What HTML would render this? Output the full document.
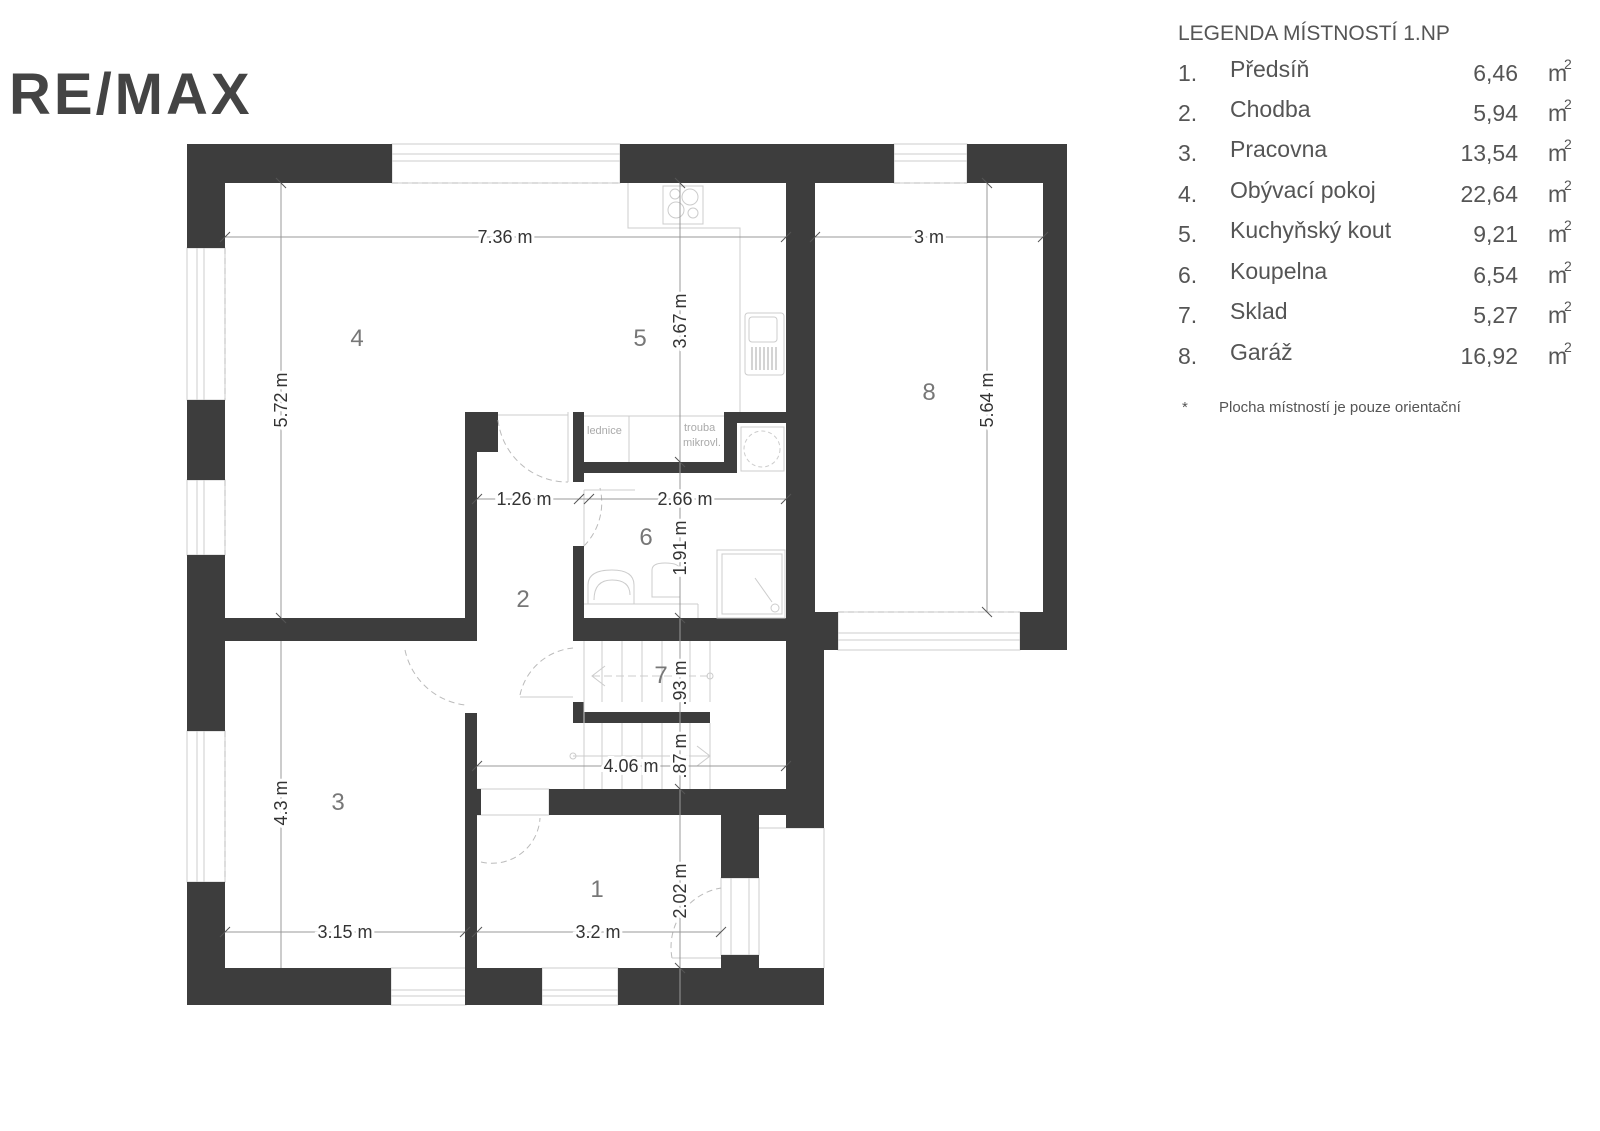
<!DOCTYPE html>
<html><head><meta charset="utf-8"><style>
html,body{margin:0;padding:0;background:#fff;width:1600px;height:1131px;overflow:hidden}
svg{display:block}
.w{fill:#3d3d3d}
.t{stroke:#ccc;stroke-width:1;fill:none}
.d{stroke:#999;stroke-width:1;fill:none}
.dash{stroke:#bbb;stroke-width:1;fill:none;stroke-dasharray:6 4}
.dim{font-family:"Liberation Sans",sans-serif;font-size:18px;fill:#333}
.rn{font-family:"Liberation Sans",sans-serif;font-size:24px;fill:#777;font-weight:300}
.lg{font-family:"Liberation Sans Narrow","Liberation Sans",sans-serif;fill:#555;font-size:22px}
</style></head><body>
<svg width="1600" height="1131" viewBox="0 0 1600 1131" xmlns="http://www.w3.org/2000/svg">
<text x="9" y="114" font-family="Liberation Sans,sans-serif" font-weight="bold" font-size="58" fill="#444" letter-spacing="3">RE/MAX</text>

<g class="t">
<rect x="392" y="144" width="228" height="39"/><line x1="392" y1="154" x2="620" y2="154"/><line x1="392" y1="161" x2="620" y2="161"/>
<rect x="894" y="144" width="73" height="39"/><line x1="894" y1="154" x2="967" y2="154"/><line x1="894" y1="161" x2="967" y2="161"/>
<rect x="187" y="248" width="38" height="152"/><line x1="197" y1="248" x2="197" y2="400"/><line x1="204" y1="248" x2="204" y2="400"/>
<rect x="187" y="480" width="38" height="75"/><line x1="197" y1="480" x2="197" y2="555"/><line x1="204" y1="480" x2="204" y2="555"/>
<rect x="187" y="731" width="38" height="151"/><line x1="197" y1="731" x2="197" y2="882"/><line x1="204" y1="731" x2="204" y2="882"/>
<rect x="391" y="968" width="75" height="37"/><line x1="391" y1="990" x2="466" y2="990"/><line x1="391" y1="996" x2="466" y2="996"/>
<rect x="542" y="968" width="76" height="37"/><line x1="542" y1="990" x2="618" y2="990"/><line x1="542" y1="996" x2="618" y2="996"/>
<rect x="838" y="612" width="182" height="38"/><line x1="838" y1="633" x2="1020" y2="633"/><line x1="838" y1="640" x2="1020" y2="640"/>
<rect x="721" y="878" width="38" height="77"/><line x1="731" y1="878" x2="731" y2="955"/><line x1="749" y1="878" x2="749" y2="955"/>
<line x1="759" y1="828" x2="824" y2="828"/><line x1="824" y1="828" x2="824" y2="968"/>
<rect x="477" y="789" width="72" height="26"/>
</g>
<g class="dash">
<line x1="392" y1="183" x2="620" y2="183"/><line x1="894" y1="183" x2="967" y2="183"/>
<line x1="225" y1="248" x2="225" y2="400"/><line x1="225" y1="480" x2="225" y2="555"/><line x1="225" y1="731" x2="225" y2="882"/>
<line x1="838" y1="612" x2="1020" y2="612"/>
</g>

<g class="w">
<path d="M187 144H392V183H225V248H187Z"/>
<rect x="620" y="144" width="274" height="39"/>
<rect x="786" y="183" width="29" height="645"/>
<rect x="815" y="612" width="23" height="38"/>
<rect x="815" y="650" width="9" height="178"/>
<rect x="549" y="789" width="237" height="26"/>
<rect x="721" y="815" width="38" height="63"/>
<rect x="573" y="618" width="213" height="23"/>
<rect x="573" y="546" width="11" height="72"/>
<rect x="573" y="412" width="11" height="70"/>
<rect x="584" y="462" width="153" height="11"/>
<rect x="724" y="412" width="13" height="61"/>
<rect x="737" y="412" width="49" height="11"/>
<path d="M967 144H1067V650H1020V612H1043V183H967Z"/>
<rect x="187" y="400" width="38" height="80"/>
<path d="M187 555H225V618H465V412H498V452H477V641H225V731H187Z"/>
<path d="M187 882H225V968H391V1005H187Z"/>
<path d="M465 713H477V789H481V815H477V968H542V1005H465Z"/>
<path d="M618 968H721V955H759V968H824V1005H618Z"/>
<path d="M573 702H584V712H710V723H573Z"/>
</g>

<g class="dash">
<path d="M498 420 A70 70 0 0 0 568 482"/>
<path d="M584 546 A62 62 0 0 0 600 488"/>
<path d="M405 650 A70 70 0 0 0 465 705"/>
<path d="M520 695 A60 60 0 0 1 573 648"/>
<path d="M481 862 A48 48 0 0 0 540 818"/>
<path d="M672 958 A60 60 0 0 1 721 888"/>
</g>
<g class="t">
<line x1="498" y1="415" x2="568" y2="415"/><line x1="568" y1="412" x2="568" y2="482"/>
<line x1="584" y1="490" x2="635" y2="490"/><line x1="584" y1="490" x2="584" y2="546"/>
<line x1="520" y1="697" x2="573" y2="697"/>
<line x1="672" y1="958" x2="721" y2="958"/>
</g>

<g class="t">
<path d="M628 183V228H740V412"/>
<rect x="663" y="186" width="40" height="38"/>
<circle cx="675" cy="194" r="5"/><circle cx="690" cy="197" r="8"/><circle cx="676" cy="210" r="8"/><circle cx="693" cy="213" r="5"/>
<rect x="745" y="313" width="39" height="62" rx="3"/><rect x="749" y="317" width="28" height="25" rx="3"/>
<g stroke="#aaa"><line x1="752" y1="347" x2="752" y2="370"/><line x1="756" y1="347" x2="756" y2="370"/><line x1="760" y1="347" x2="760" y2="370"/><line x1="764" y1="347" x2="764" y2="370"/><line x1="768" y1="347" x2="768" y2="370"/><line x1="772" y1="347" x2="772" y2="370"/><line x1="776" y1="347" x2="776" y2="370"/></g>
<line x1="584" y1="416" x2="724" y2="416"/><line x1="629" y1="416" x2="629" y2="462"/>
<rect x="741" y="427" width="43" height="44"/><circle cx="762" cy="449" r="18" stroke-dasharray="4 3"/>
</g>
<text x="587" y="434" font-family="Liberation Sans,sans-serif" font-size="11" fill="#aaa">lednice</text>
<text x="684" y="431" font-family="Liberation Sans,sans-serif" font-size="11" fill="#aaa">trouba</text>
<text x="683" y="446" font-family="Liberation Sans,sans-serif" font-size="11" fill="#aaa">mikrovl.</text>

<g class="t">
<rect x="717" y="550" width="68" height="68"/><rect x="722" y="554" width="60" height="60"/>
<line x1="755" y1="578" x2="772" y2="602"/><circle cx="775" cy="608" r="4"/>
<path d="M588 604V585Q588 570 612 570Q634 570 634 585V604"/>
<path d="M594 600Q594 580 612 580Q630 580 630 595"/>
<path d="M652 597V570Q652 563 665 563Q680 563 680 570V597Z"/>
<line x1="584" y1="604" x2="698" y2="604"/><line x1="698" y1="604" x2="698" y2="618"/>
</g>

<g class="t">
<line x1="584" y1="641" x2="584" y2="789"/>
<line x1="602" y1="641" x2="602" y2="702"/><line x1="622" y1="641" x2="622" y2="702"/><line x1="642" y1="641" x2="642" y2="702"/><line x1="662" y1="641" x2="662" y2="702"/><line x1="690" y1="641" x2="690" y2="702"/><line x1="710" y1="641" x2="710" y2="702"/>
<line x1="602" y1="723" x2="602" y2="789"/><line x1="622" y1="723" x2="622" y2="789"/><line x1="642" y1="723" x2="642" y2="789"/><line x1="662" y1="723" x2="662" y2="789"/><line x1="690" y1="723" x2="690" y2="789"/><line x1="710" y1="723" x2="710" y2="789"/>
<line x1="592" y1="676" x2="710" y2="676" stroke-dasharray="8 4"/><path d="M605 666L592 676L605 686"/><circle cx="710" cy="676" r="3"/>
<line x1="573" y1="756" x2="710" y2="756"/><path d="M697 746L710 756L697 766"/><circle cx="573" cy="756" r="3"/>
</g>

<g class="d">
<line x1="225" y1="237" x2="786" y2="237"/><line x1="815" y1="237" x2="1043" y2="237"/>
<line x1="281" y1="183" x2="281" y2="618"/><line x1="680" y1="183" x2="680" y2="1005"/>
<line x1="987" y1="183" x2="987" y2="612"/>
<line x1="477" y1="499" x2="786" y2="499"/>
<line x1="477" y1="766" x2="786" y2="766"/>
<line x1="281" y1="641" x2="281" y2="968"/>
<line x1="225" y1="932" x2="465" y2="932"/><line x1="477" y1="932" x2="721" y2="932"/>
</g>
<g stroke="#555" stroke-width="1">
<line x1="220" y1="242" x2="230" y2="232"/><line x1="781" y1="242" x2="791" y2="232"/><line x1="810" y1="242" x2="820" y2="232"/><line x1="1038" y1="242" x2="1048" y2="232"/>
<line x1="276" y1="178" x2="286" y2="188"/><line x1="276" y1="613" x2="286" y2="623"/><line x1="982" y1="178" x2="992" y2="188"/><line x1="982" y1="607" x2="992" y2="617"/>
<line x1="472" y1="504" x2="482" y2="494"/><line x1="574" y1="504" x2="584" y2="494"/><line x1="584" y1="504" x2="594" y2="494"/><line x1="781" y1="504" x2="791" y2="494"/>
<line x1="472" y1="771" x2="482" y2="761"/><line x1="781" y1="771" x2="791" y2="761"/>
<line x1="220" y1="937" x2="230" y2="927"/><line x1="460" y1="937" x2="470" y2="927"/><line x1="472" y1="937" x2="482" y2="927"/><line x1="716" y1="937" x2="726" y2="927"/>
<line x1="675" y1="178" x2="685" y2="188"/><line x1="675" y1="457" x2="685" y2="467"/><line x1="675" y1="613" x2="685" y2="623"/><line x1="675" y1="784" x2="685" y2="794"/><line x1="675" y1="963" x2="685" y2="973"/>
</g>
<g class="dim" text-anchor="middle" stroke="#fff" stroke-width="6" style="paint-order:stroke">
<text x="505" y="243">7.36 m</text>
<text x="929" y="243">3 m</text>
<text x="524" y="505">1.26 m</text>
<text x="685" y="505">2.66 m</text>
<text x="631" y="772">4.06 m</text>
<text x="345" y="938">3.15 m</text>
<text x="598" y="938">3.2 m</text>
<text transform="translate(287,400) rotate(-90)">5.72 m</text>
<text transform="translate(686,321) rotate(-90)">3.67 m</text>
<text transform="translate(993,400) rotate(-90)">5.64 m</text>
<text transform="translate(686,548) rotate(-90)">1.91 m</text>
<text transform="translate(686,683) rotate(-90)">.93 m</text>
<text transform="translate(686,756) rotate(-90)">.87 m</text>
<text transform="translate(287,803) rotate(-90)">4.3 m</text>
<text transform="translate(686,891) rotate(-90)">2.02 m</text>
</g>
<g class="rn" text-anchor="middle">
<text x="357" y="346">4</text><text x="640" y="346">5</text><text x="929" y="400">8</text>
<text x="523" y="607">2</text><text x="646" y="545">6</text><text x="661" y="683">7</text>
<text x="338" y="810">3</text><text x="597" y="897">1</text>
</g>

<g class="lg">
<text x="1178" y="40" font-size="21">LEGENDA  MÍSTNOSTÍ  1.NP</text>
<g font-size="23">
<text x="1178" y="81">1.</text><text x="1230" y="77">Předsíň</text><text x="1518" y="81" text-anchor="end">6,46</text><text x="1548" y="81">m</text><text x="1564" y="69" font-size="14">2</text>
<text x="1178" y="121">2.</text><text x="1230" y="117">Chodba</text><text x="1518" y="121" text-anchor="end">5,94</text><text x="1548" y="121">m</text><text x="1564" y="109" font-size="14">2</text>
<text x="1178" y="161">3.</text><text x="1230" y="157">Pracovna</text><text x="1518" y="161" text-anchor="end">13,54</text><text x="1548" y="161">m</text><text x="1564" y="149" font-size="14">2</text>
<text x="1178" y="202">4.</text><text x="1230" y="198">Obývací  pokoj</text><text x="1518" y="202" text-anchor="end">22,64</text><text x="1548" y="202">m</text><text x="1564" y="190" font-size="14">2</text>
<text x="1178" y="242">5.</text><text x="1230" y="238">Kuchyňský  kout</text><text x="1518" y="242" text-anchor="end">9,21</text><text x="1548" y="242">m</text><text x="1564" y="230" font-size="14">2</text>
<text x="1178" y="283">6.</text><text x="1230" y="279">Koupelna</text><text x="1518" y="283" text-anchor="end">6,54</text><text x="1548" y="283">m</text><text x="1564" y="271" font-size="14">2</text>
<text x="1178" y="323">7.</text><text x="1230" y="319">Sklad</text><text x="1518" y="323" text-anchor="end">5,27</text><text x="1548" y="323">m</text><text x="1564" y="311" font-size="14">2</text>
<text x="1178" y="364">8.</text><text x="1230" y="360">Garáž</text><text x="1518" y="364" text-anchor="end">16,92</text><text x="1548" y="364">m</text><text x="1564" y="352" font-size="14">2</text>
</g>
<text x="1182" y="412" font-size="15">*</text>
<text x="1219" y="412" font-size="15">Plocha  místností  je  pouze  orientační</text>
</g>
</svg>
</body></html>
